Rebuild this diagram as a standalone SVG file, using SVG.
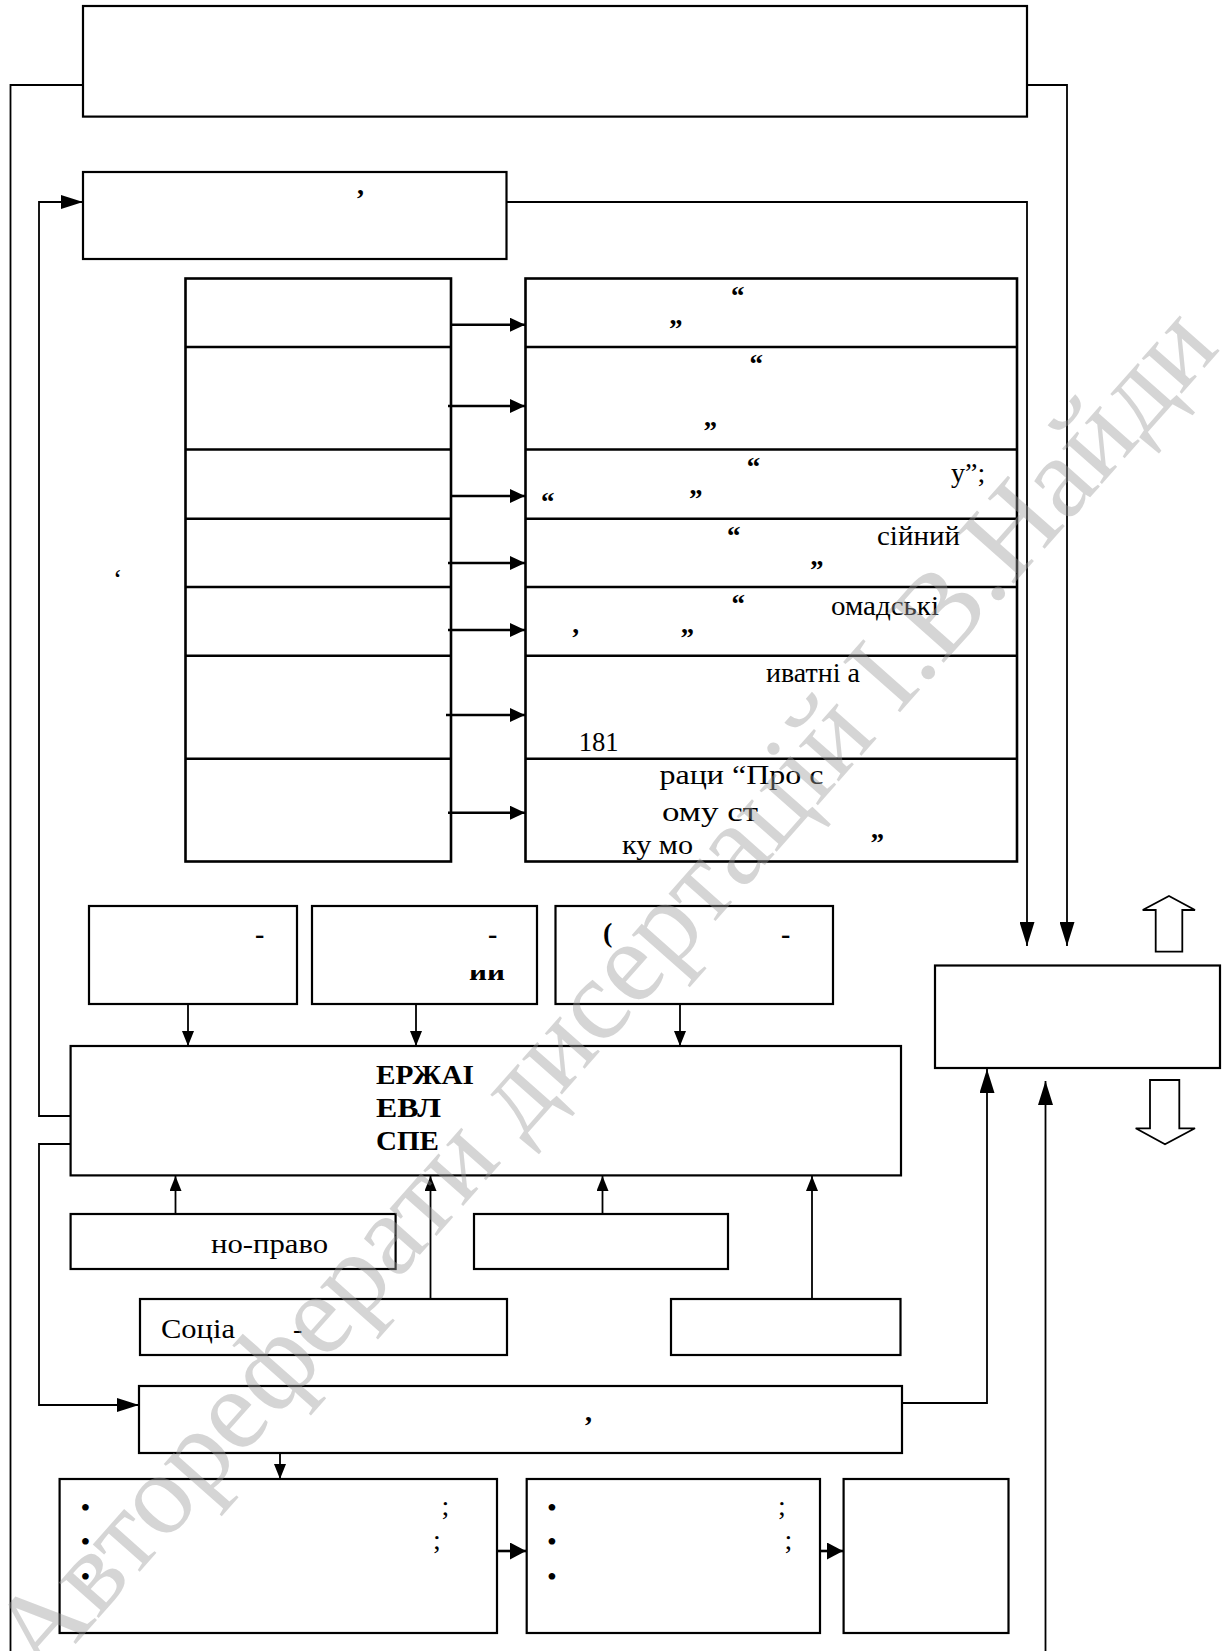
<svg xmlns="http://www.w3.org/2000/svg" width="1229" height="1651" viewBox="0 0 1229 1651">
<style>
.box{fill:none;stroke:#000;stroke-width:2.2}
.tb{fill:none;stroke:#000;stroke-width:2.6}
.ln{fill:none;stroke:#000;stroke-width:1.8}
.lt{fill:none;stroke:#000;stroke-width:2.6}
.t{font-family:"Liberation Serif","Times New Roman",serif;font-size:28px;fill:#000}
.q{font-family:"Liberation Serif","Times New Roman",serif;font-size:27px;fill:#000;font-weight:bold}
.b{font-family:"Liberation Serif","Times New Roman",serif;font-size:28px;font-weight:bold;fill:#000}
.hol{fill:#fff;stroke:#000;stroke-width:1.8}
.wm{font-family:"Liberation Serif","Times New Roman",serif;font-size:116px;fill:#9a9a9a;fill-opacity:0.42}
</style>
<defs>
<marker id="a" markerUnits="userSpaceOnUse" markerWidth="15" markerHeight="12" refX="15" refY="6" orient="auto"><path d="M0,0 L15,6 L0,12 z" fill="#000"/></marker>
<marker id="at" markerUnits="userSpaceOnUse" markerWidth="15" markerHeight="14" refX="15" refY="7" orient="auto"><path d="M0,0 L15,7 L0,14 z" fill="#000"/></marker>
<marker id="al" markerUnits="userSpaceOnUse" markerWidth="24" markerHeight="15" refX="24" refY="7.5" orient="auto"><path d="M0,0 L24,7.5 L0,15 z" fill="#000"/></marker>
<marker id="aw" markerUnits="userSpaceOnUse" markerWidth="22" markerHeight="14" refX="22" refY="7" orient="auto"><path d="M0,0 L22,7 L0,14 z" fill="#000"/></marker>
<marker id="ab" markerUnits="userSpaceOnUse" markerWidth="16" markerHeight="17" refX="16" refY="8.5" orient="auto"><path d="M0,0 L16,8.5 L0,17 z" fill="#000"/></marker>
<clipPath id="cb"><rect x="460" y="970" width="60" height="12"/></clipPath>
</defs>
<rect width="1229" height="1651" fill="#fff"/>

<g id="connectors">
<path class="ln" d="M83,85 H10.5 V1651"/>
<path class="ln" d="M1027,85 H1067 V946" marker-end="url(#al)"/>
<path class="ln" d="M506,202 H1027 V946" marker-end="url(#al)"/>
<path class="ln" d="M70.6,1116 H39 V202 H83" marker-end="url(#aw)"/>
<path class="ln" d="M70.6,1144 H39 V1405 H139" marker-end="url(#aw)"/>
<path class="lt" d="M451,324.7 H525" marker-end="url(#at)"/>
<path class="lt" d="M448,406 H525" marker-end="url(#at)"/>
<path class="lt" d="M451,496 H525" marker-end="url(#at)"/>
<path class="lt" d="M448,563 H525" marker-end="url(#at)"/>
<path class="lt" d="M448,630 H525" marker-end="url(#at)"/>
<path class="lt" d="M446,715 H525" marker-end="url(#at)"/>
<path class="lt" d="M448,812.7 H525" marker-end="url(#at)"/>
<path class="ln" d="M188,1004 V1046" marker-end="url(#a)"/>
<path class="ln" d="M416,1004 V1046" marker-end="url(#a)"/>
<path class="ln" d="M680,1004 V1046" marker-end="url(#a)"/>
<path class="ln" d="M175.5,1214 V1176" marker-end="url(#a)"/>
<path class="ln" d="M430.5,1299 V1176" marker-end="url(#a)"/>
<path class="ln" d="M602.5,1214 V1176" marker-end="url(#a)"/>
<path class="ln" d="M812,1299 V1176" marker-end="url(#a)"/>
<path class="ln" d="M902,1403 H987 V1069" marker-end="url(#al)"/>
<path class="ln" d="M1045.5,1651 V1081" marker-end="url(#al)"/>
<path class="ln" d="M280,1453 V1479" marker-end="url(#a)"/>
<path class="lt" d="M497,1551 H526" marker-end="url(#ab)"/>
<path class="lt" d="M820,1551 H843" marker-end="url(#ab)"/>
</g>

<g id="top-box"><rect class="box" x="83" y="6" width="944" height="110.6"/></g>
<g id="box-2"><rect class="box" x="83" y="172" width="423.5" height="87"/>
<text class="b" x="357" y="194" font-size="20">,</text></g>

<g id="left-table">
<rect class="tb" x="185.5" y="278.5" width="265.5" height="583"/>
<path class="tb" d="M185.5,347 H451 M185.5,449.5 H451 M185.5,518.8 H451 M185.5,587 H451 M185.5,655.8 H451 M185.5,758.7 H451"/>
</g>
<g id="mark"><text class="t" x="113" y="588" font-size="14">‘</text></g>

<g id="right-table">
<rect class="tb" x="525.5" y="278.5" width="491.5" height="583"/>
<path class="tb" d="M525.5,347 H1017 M525.5,449.5 H1017 M525.5,518.8 H1017 M525.5,587 H1017 M525.5,655.8 H1017 M525.5,758.7 H1017"/>
<text class="q" x="731" y="305">“</text>
<text class="q" x="669" y="338">”</text>
<text class="q" x="749.6" y="373">“</text>
<text class="q" x="703.5" y="440">”</text>
<text class="q" x="746.7" y="475.7">“</text>
<text class="q" x="541" y="511">“</text>
<text class="q" x="689" y="508">”</text>
<text class="t" x="951" y="482" font-size="30">у”;</text>
<text class="q" x="727" y="545">“</text>
<text class="t" x="877" y="545" textLength="83" lengthAdjust="spacingAndGlyphs">сійний</text>
<text class="q" x="810" y="578.5">”</text>
<text class="q" x="731.5" y="613">“</text>
<text class="t" x="831" y="615" textLength="108" lengthAdjust="spacingAndGlyphs">омадські</text>
<text class="q" x="571" y="647">’</text>
<text class="q" x="680.6" y="646.7">”</text>
<text class="t" x="766" y="681.7" textLength="94" lengthAdjust="spacingAndGlyphs">иватні а</text>
<text class="t" x="578.7" y="750.7" textLength="40" lengthAdjust="spacingAndGlyphs">181</text>
<text class="t" x="659.5" y="784" textLength="164" lengthAdjust="spacingAndGlyphs">раци “Про с</text>
<text class="t" x="662" y="821" textLength="96" lengthAdjust="spacingAndGlyphs">ому ст</text>
<text class="t" x="622" y="854" textLength="71" lengthAdjust="spacingAndGlyphs">ку мо</text>
<text class="q" x="870.6" y="852">”</text>
</g>

<g id="box-a"><rect class="box" x="89" y="906" width="208" height="98"/>
<text class="b" x="255" y="943" font-size="24">-</text></g>
<g id="box-b"><rect class="box" x="312" y="906" width="225" height="98"/>
<text class="b" x="488" y="943" font-size="24">-</text>
<text class="b" x="469" y="980" font-size="26" textLength="36" lengthAdjust="spacingAndGlyphs" clip-path="url(#cb)">ии</text></g>
<g id="box-c"><rect class="box" x="555.5" y="906" width="277.5" height="98"/>
<text class="b" x="603" y="942" font-size="24">(</text>
<text class="b" x="781" y="943" font-size="24">-</text></g>

<g id="main-box"><rect class="box" x="70.6" y="1046" width="830.4" height="129.4"/>
<text class="b" x="376" y="1084" textLength="98" lengthAdjust="spacingAndGlyphs">ЕРЖАІ</text>
<text class="b" x="376" y="1117" textLength="65" lengthAdjust="spacingAndGlyphs">ЕВЛ</text>
<text class="b" x="376" y="1150" textLength="63" lengthAdjust="spacingAndGlyphs">СПЕ</text></g>

<g id="box-d"><rect class="box" x="70.6" y="1214" width="325" height="55"/>
<text class="t" x="211" y="1253" font-size="30" textLength="117" lengthAdjust="spacingAndGlyphs">но-право</text></g>
<g id="box-e"><rect class="box" x="474" y="1214" width="254" height="55"/></g>
<g id="box-f"><rect class="box" x="140" y="1299" width="367" height="56"/>
<text class="t" x="161" y="1337.5" font-size="30" textLength="74" lengthAdjust="spacingAndGlyphs">Соціа</text>
<text class="t" x="293" y="1337.5" font-size="30">-</text></g>
<g id="box-g"><rect class="box" x="671" y="1299" width="229.5" height="56"/></g>

<g id="box-h"><rect class="box" x="139" y="1386" width="763" height="67"/>
<text class="b" x="585" y="1421">,</text></g>

<g id="right-box"><rect class="box" x="935" y="965.5" width="285" height="102.5"/></g>
<g id="arrow-up"><path class="hol" d="M1169,896 L1195,910 L1182.3,910 L1182.3,951.7 L1155.7,951.7 L1155.7,910 L1142.7,910 z"/></g>
<g id="arrow-down"><path class="hol" d="M1150,1080 L1179.3,1080 L1179.3,1128.3 L1195,1128.3 L1165,1144.3 L1135.7,1128.3 L1150,1128.3 z"/></g>

<g id="box-i"><rect class="box" x="59.6" y="1479" width="437.4" height="154"/>
<text class="t" x="80.5" y="1517" font-size="26">•</text>
<text class="t" x="80.5" y="1551" font-size="26">•</text>
<text class="t" x="80.5" y="1586" font-size="26">•</text>
<text class="t" x="441.4" y="1515" font-size="26">;</text>
<text class="t" x="433" y="1548.6" font-size="26">;</text></g>
<g id="box-j"><rect class="box" x="526.7" y="1479" width="293.3" height="154"/>
<text class="t" x="547" y="1517" font-size="26">•</text>
<text class="t" x="547" y="1551" font-size="26">•</text>
<text class="t" x="547" y="1586" font-size="26">•</text>
<text class="t" x="778" y="1515" font-size="26">;</text>
<text class="t" x="784.4" y="1548.6" font-size="26">;</text></g>
<g id="box-k"><rect class="box" x="843.6" y="1479" width="164.9" height="154"/></g>

<g id="watermark"><text class="wm" transform="translate(42,1682) rotate(-48.5)" textLength="1780">Автореферати дисертацій І.В.Найди</text></g>
</svg>
